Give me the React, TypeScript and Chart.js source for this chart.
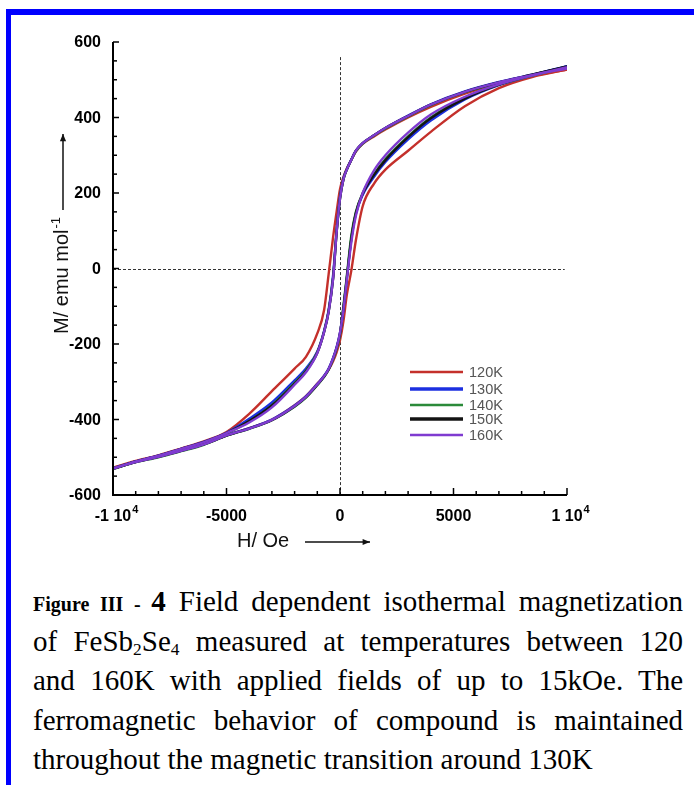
import React, { useEffect, useRef } from "react";
import { Chart, registerables } from "chart.js";

Chart.register(...registerables);

// Applied field grid (Oe), shared by both branches of every loop
const FIELD_OE = [
  -10000, -9000, -8000, -7000, -6000, -5000, -4000, -3000, -2000, -1500, -1000, -700, -500, -300, -150,
  0, 150, 300, 500, 700, 1000, 1500, 2000, 3000, 4000, 5500, 7000, 8500, 10000,
];

// Magnetization (emu/mol) on the decreasing-field branch
const M_DOWN_120K = [-528, -510, -495, -477, -458, -433, -385, -325, -265, -234, -172, -110, -15, 85, 150, 210, 242, 265, 288, 310, 330, 350, 368, 400, 428, 463, 490, 510, 527];
const M_DOWN_130K = [-530, -511, -496, -478, -459, -435, -398, -355, -296, -265, -220, -165, -110, -15, 100, 190, 238, 263, 289, 312, 332, 353, 372, 405, 435, 469, 494, 514, 536];
const M_DOWN_140K = [-531, -512, -497, -479, -461, -437, -405, -362, -303, -270, -222, -167, -113, -22, 96, 186, 236, 262, 288, 311, 331, 352, 371, 403, 433, 467, 492, 512, 534];
const M_DOWN_150K = [-530, -511, -496, -478, -460, -436, -404, -363, -305, -272, -223, -168, -114, -24, 95, 185, 236, 262, 288, 312, 332, 353, 372, 404, 434, 468, 493, 514, 535];
const M_DOWN_160K = [-530, -511, -496, -478, -460, -436, -408, -368, -308, -275, -224, -168, -115, -25, 95, 185, 236, 262, 288, 312, 332, 353, 372, 404, 434, 468, 493, 513, 533];

// Magnetization (emu/mol) on the increasing-field branch
const M_UP_120K = [-528, -512, -498, -482, -465, -442, -423, -400, -362, -338, -305, -285, -268, -245, -222, -190, -140, -70, -5, 75, 165, 225, 262, 312, 362, 430, 478, 508, 527];
const M_UP_130K = [-530, -512, -498, -482, -465, -442, -423, -400, -363, -339, -306, -284, -265, -236, -208, -170, -108, -28, 78, 145, 195, 243, 282, 342, 392, 448, 486, 512, 535];
const M_UP_140K = [-530, -513, -500, -484, -467, -443, -425, -402, -366, -342, -309, -287, -268, -240, -213, -175, -100, -20, 88, 150, 200, 250, 290, 350, 400, 452, 487, 512, 532];
const M_UP_150K = [-531, -513, -499, -483, -466, -443, -424, -402, -365, -341, -308, -286, -267, -238, -211, -172, -105, -25, 80, 147, 198, 248, 287, 348, 398, 450, 487, 513, 534];
const M_UP_160K = [-530, -513, -499, -483, -466, -442, -424, -401, -364, -340, -307, -285, -266, -237, -210, -170, -110, -30, 70, 140, 200, 260, 300, 360, 408, 455, 488, 512, 530];

const TEMPERATURES = ["120K", "130K", "140K", "150K", "160K"];
const BRANCH_DOWN = [M_DOWN_120K, M_DOWN_130K, M_DOWN_140K, M_DOWN_150K, M_DOWN_160K];
const BRANCH_UP = [M_UP_120K, M_UP_130K, M_UP_140K, M_UP_150K, M_UP_160K];

// Axis ticks
const X_MAJOR_TICKS = [-10000, -5000, 0, 5000, 10000];
const X_TICK_LABELS = ["-1 10^4", "-5000", "0", "5000", "1 10^4"];
const Y_MAJOR_TICKS = [600, 400, 200, 0, -200, -400, -600];
const Y_TICK_LABELS = ["600", "400", "200", "0", "-200", "-400", "-600"];

// Styling
const LINE_COLORS = ["#c4302b", "#1c2fe0", "#2b8a3a", "#141414", "#7f3bd0"];
const LEGEND_LINE_WIDTHS = [2.5, 3.5, 2.5, 3.5, 2.5];
const DRAW_ORDER = [4, 3, 2, 1, 0];
const SANS = "'Liberation Sans', Arial, sans-serif";

const buildPoints = (values: number[]) => FIELD_OE.map((h, i) => ({ x: h, y: values[i] }));

function drawArrow(ctx: CanvasRenderingContext2D, x1: number, y1: number, x2: number, y2: number) {
  const ang = Math.atan2(y2 - y1, x2 - x1);
  ctx.beginPath();
  ctx.moveTo(x1, y1);
  ctx.lineTo(x2, y2);
  ctx.stroke();
  ctx.beginPath();
  ctx.moveTo(x2, y2);
  ctx.lineTo(x2 - 8 * Math.cos(ang - 0.4), y2 - 8 * Math.sin(ang - 0.4));
  ctx.lineTo(x2 - 8 * Math.cos(ang + 0.4), y2 - 8 * Math.sin(ang + 0.4));
  ctx.closePath();
  ctx.fill();
}

const hysteresisFrame = {
  id: "hysteresisFrame",
  beforeDatasetsDraw(chart: any) {
    const { ctx, scales } = chart;
    const xs = scales.x;
    const ys = scales.y;
    ctx.save();
    ctx.strokeStyle = "#333";
    ctx.lineWidth = 1;
    ctx.setLineDash([3, 2]);
    const x0 = Math.round(xs.getPixelForValue(0)) + 0.5;
    ctx.beginPath();
    ctx.moveTo(x0, ys.getPixelForValue(560));
    ctx.lineTo(x0, ys.getPixelForValue(-600));
    ctx.stroke();
    const y0 = Math.round(ys.getPixelForValue(0)) + 0.5;
    ctx.beginPath();
    ctx.moveTo(xs.getPixelForValue(-10000), y0);
    ctx.lineTo(xs.getPixelForValue(9900), y0);
    ctx.stroke();
    ctx.restore();
  },
  afterDatasetsDraw(chart: any) {
    const { ctx, scales } = chart;
    const xs = scales.x;
    const ys = scales.y;
    const left = xs.getPixelForValue(-10000);
    const right = xs.getPixelForValue(10000);
    const top = ys.getPixelForValue(600);
    const bottom = ys.getPixelForValue(-600);
    ctx.save();
    ctx.strokeStyle = "#000";
    ctx.fillStyle = "#000";

    // axis lines
    ctx.lineWidth = 2;
    ctx.beginPath();
    ctx.moveTo(left, top);
    ctx.lineTo(left, bottom);
    ctx.lineTo(right, bottom);
    ctx.stroke();

    // inward tick marks
    ctx.lineWidth = 1.5;
    for (let v = -10000; v <= 10000; v += 1000) {
      const px = xs.getPixelForValue(v);
      const len = v % 5000 === 0 ? 7 : 4;
      ctx.beginPath();
      ctx.moveTo(px, bottom);
      ctx.lineTo(px, bottom - len);
      ctx.stroke();
    }
    for (let v = -600; v <= 600; v += 50) {
      const py = ys.getPixelForValue(v);
      const len = v % 200 === 0 ? 6 : 4;
      ctx.beginPath();
      ctx.moveTo(left, py);
      ctx.lineTo(left + len, py);
      ctx.stroke();
    }

    // tick labels
    ctx.font = `bold 16px ${SANS}`;
    ctx.textBaseline = "middle";
    ctx.textAlign = "right";
    Y_MAJOR_TICKS.forEach((v, i) => {
      ctx.fillText(Y_TICK_LABELS[i], left - 12, ys.getPixelForValue(v) + 1);
    });
    X_MAJOR_TICKS.forEach((v, i) => {
      const [base, sup] = X_TICK_LABELS[i].split("^");
      const px = xs.getPixelForValue(v);
      ctx.font = `bold 16px ${SANS}`;
      const w = ctx.measureText(base).width;
      ctx.textAlign = "left";
      ctx.fillText(base, px - w / 2, bottom + 22);
      if (sup) {
        ctx.font = `bold 11px ${SANS}`;
        ctx.fillText(sup, px + w / 2 + 1, bottom + 15);
      }
    });

    // axis titles
    ctx.font = `20px ${SANS}`;
    ctx.textAlign = "left";
    ctx.fillStyle = "#111";
    ctx.strokeStyle = "#111";
    ctx.lineWidth = 1.5;
    ctx.fillText("H/ Oe", 237, 541);
    drawArrow(ctx, 305, 542, 370, 542);

    ctx.save();
    ctx.translate(62, 334);
    ctx.rotate(-Math.PI / 2);
    ctx.font = `20px ${SANS}`;
    ctx.fillText("M/ emu mol", 0, 0);
    const tw = ctx.measureText("M/ emu mol").width;
    ctx.font = `13px ${SANS}`;
    ctx.fillText("-1", tw + 1, -6);
    const sw = ctx.measureText("-1").width;
    drawArrow(ctx, tw + sw + 8, 1, 200, 1);
    ctx.restore();

    // legend
    const legendRows = [372, 389, 405, 419, 435];
    ctx.font = `14.5px ${SANS}`;
    ctx.textBaseline = "middle";
    TEMPERATURES.forEach((t, i) => {
      ctx.strokeStyle = LINE_COLORS[i];
      ctx.lineWidth = LEGEND_LINE_WIDTHS[i];
      ctx.beginPath();
      ctx.moveTo(410, legendRows[i]);
      ctx.lineTo(463, legendRows[i]);
      ctx.stroke();
      ctx.fillStyle = "#555";
      ctx.fillText(t, 469, legendRows[i] + 1);
    });
    ctx.restore();
  },
};

function HysteresisChart() {
  const ref = useRef<HTMLCanvasElement | null>(null);
  useEffect(() => {
    if (!ref.current) return;
    const datasets: any[] = [];
    TEMPERATURES.forEach((t, i) => {
      [BRANCH_DOWN[i], BRANCH_UP[i]].forEach((branch) => {
        datasets.push({
          label: t,
          data: buildPoints(branch),
          borderColor: LINE_COLORS[i],
          backgroundColor: LINE_COLORS[i],
          borderWidth: 2.4,
          pointRadius: 0,
          fill: false,
          cubicInterpolationMode: "monotone",
          order: DRAW_ORDER[i],
        });
      });
    });
    const chart = new Chart(ref.current, {
      type: "line",
      data: { datasets },
      options: {
        animation: false,
        responsive: false,
        devicePixelRatio: 1,
        layout: { padding: { left: 113, top: 42, right: 127, bottom: 65 } },
        plugins: { legend: { display: false }, tooltip: { enabled: false } },
        scales: {
          x: { type: "linear", min: -10000, max: 10000, display: false },
          y: { type: "linear", min: -600, max: 600, display: false },
        },
      },
      plugins: [hysteresisFrame],
    });
    return () => chart.destroy();
  }, []);
  return <canvas ref={ref} width={694} height={560} style={{ position: "absolute", left: 0, top: 0 }} />;
}

const SERIF = "'Liberation Serif', 'Times New Roman', serif";
const justified: React.CSSProperties = {
  height: 39.5,
  lineHeight: "39.5px",
  textAlign: "justify",
  textAlignLast: "justify",
};
const subStyle: React.CSSProperties = { fontSize: "0.6em", verticalAlign: "-0.25em", lineHeight: 0 };

export default function App() {
  return (
    <div style={{ position: "absolute", left: 0, top: 0, width: 694, height: 785, background: "#fff", overflow: "hidden" }}>
      <div
        style={{
          position: "absolute",
          left: 6,
          top: 9,
          right: -10,
          bottom: -10,
          borderTop: "6px solid #0000ff",
          borderLeft: "5px solid #0000ff",
        }}
      />
      <HysteresisChart />
      <div
        style={{
          position: "absolute",
          left: 33,
          top: 582,
          width: 650,
          fontFamily: SERIF,
          fontSize: 29,
          color: "#000",
        }}
      >
        <div style={justified}>
          <b style={{ fontSize: 20 }}>Figure III - </b>
          <b>4</b> Field dependent isothermal magnetization
        </div>
        <div style={justified}>
          of FeSb<sub style={subStyle}>2</sub>Se<sub style={subStyle}>4</sub> measured at temperatures between 120
        </div>
        <div style={justified}>and 160K with applied fields of up to 15kOe. The</div>
        <div style={justified}>ferromagnetic behavior of compound is maintained</div>
        <div style={{ height: 39.5, lineHeight: "39.5px" }}>throughout the magnetic transition around 130K</div>
      </div>
    </div>
  );
}
